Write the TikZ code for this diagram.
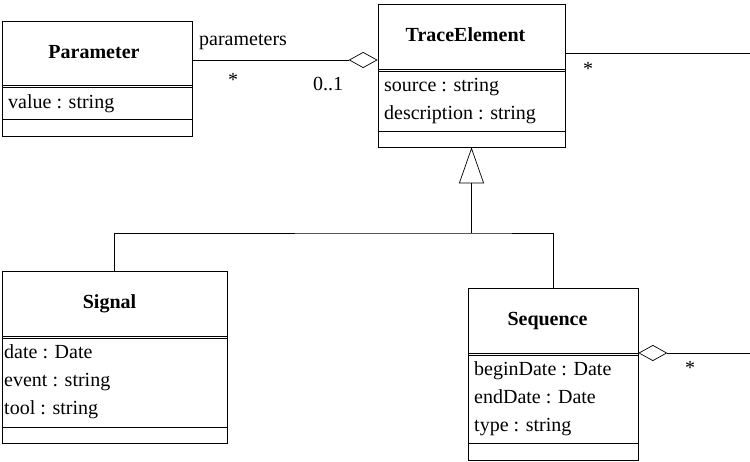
\documentclass[tikz,border=0pt]{standalone}
\usepackage{fontspec}
\setmainfont{LiberationSerif}[
  Extension=.ttf,
  UprightFont=*-Regular,
  BoldFont=*-Bold,
  ItalicFont=*-Italic,
  BoldItalicFont=*-BoldItalic]
\usetikzlibrary{math}
\usetikzlibrary{arrows.meta}
\usetikzlibrary{positioning}

\tikzset{
  classbox/.style={draw, line width=0.7pt, inner sep=0pt},
  sepline/.style={line width=0.7pt},
  title/.style={font=\fontsize{20}{24}\selectfont\bfseries, anchor=base, inner sep=0pt},
  attr/.style={font=\fontsize{20}{24}\selectfont, anchor=base west, inner sep=0pt},
  mult/.style={font=\fontsize{20}{24}\selectfont, anchor=base, inner sep=0pt},
  link/.style={line width=0.7pt},
}

\begin{document}
\begin{tikzpicture}[x=1pt, y=-1pt]
  \tikzmath{
    \lh = 28;   % attribute line height
    \tb = 37;   % title baseline below box top
    \ab = 21.5; % first attribute baseline below separator
  }
  \useasboundingbox (0, 0) rectangle (750, 461);

  % class boxes
  \node[classbox, minimum width=190pt, minimum height=115pt] (param) at (97, 78.5) {};
  \node[classbox, minimum width=187pt, minimum height=143pt] (trace) at (471.5, 75.5) {};
  \node[classbox, minimum width=225pt, minimum height=172pt] (signal) at (114.5, 357) {};
  \node[classbox, minimum width=170pt, minimum height=172pt] (sequence) at (553, 374) {};

  % compartments
  \foreach \xa/\xb/\ys/\ya in {2/192/86/119, 378/565/70/131, 2/227/337/427, 468/638/354/443} {
    \draw[sepline] (\xa, \ys-1) -- (\xb, \ys-1);
    \draw[sepline] (\xa, \ys+1) -- (\xb, \ys+1);
    \draw[sepline] (\xa, \ya) -- (\xb, \ya);
  }

  % class names
  \node[title] (paramname) at (94, 21+\tb) {Parameter};
  \node[title] (tracename) at (465.5, 4+\tb) {TraceElement};
  \node[title] (signalname) at (109.5, 271+\tb) {Signal};
  \node[title] (sequencename) at (547.5, 288+\tb) {Sequence};

  % attributes
  \node[attr] (param-1) at (8, 87+\ab) {value : string};
  \foreach \txt [count=\i] in {source : string, description : string} {
    \node[attr] (trace-\i) at (384, {70+\ab+(\i-1)*\lh}) {\txt};
  }
  \foreach \txt [count=\i] in {date : Date, event : string, tool : string} {
    \node[attr] (signal-\i) at (4, {337+\ab+(\i-1)*\lh}) {\txt};
  }
  \foreach \txt [count=\i] in {beginDate : Date, endDate : Date, type : string} {
    \node[attr] (sequence-\i) at (474, {354+\ab+(\i-1)*\lh}) {\txt};
  }

  % associations
  \coordinate (assocP) at ([yshift=18.5pt]param.east);
  \draw[link, -{Diamond[open, length=29pt, width=16pt]}] (assocP) -- (assocP -| trace.west);
  \coordinate (traceOut) at (750, 53);
  \draw[link] (trace.east |- traceOut) -- (traceOut);
  \coordinate (seqOut) at (750, 353);
  \draw[link, {Diamond[open, length=29pt, width=16pt]}-] (sequence.east |- seqOut) -- (seqOut);

  % association labels
  \node[attr] (rolename) at (199, 45) {parameters};
  \node[mult] (multP) at (233, 86.5) {*};
  \node[attr] (multT) at (313, 90) {0..1};
  \node[mult] (multO) at (588, 75.5) {*};
  \node[mult] (multS) at (690, 374.5) {*};

  % generalization
  \coordinate (gen) at (trace.south |- 0, 233);
  \draw[link] (signal.north) |- (gen) -| (sequence.north);
  \draw[link, -{Triangle[open, length=36pt, width=25pt]}] (gen) -- (trace.south);
\end{tikzpicture}
\end{document}
